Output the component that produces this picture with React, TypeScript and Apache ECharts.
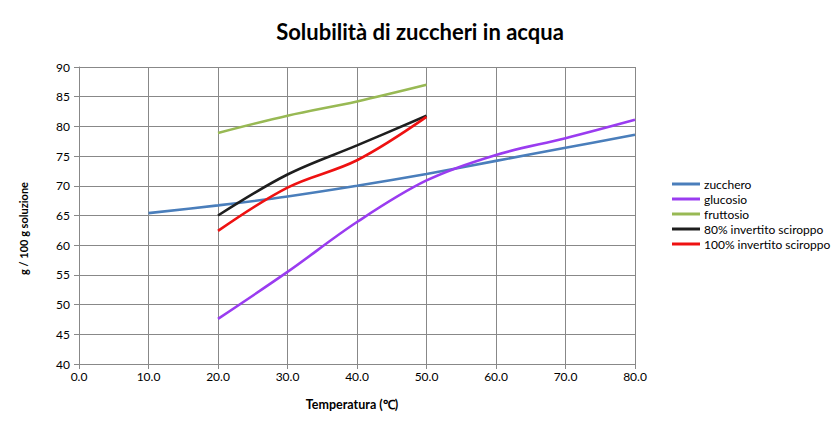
import React, { useEffect, useRef } from "react";
import * as echarts from "echarts";

const temps = [0, 10, 20, 30, 40, 50, 60, 70, 80];
const zucchero = [null, 65.4, 66.7, 68.2, 70.0, 72.0, 74.2, 76.4, 78.6];
const glucosio = [null, null, 47.6, 55.5, 63.9, 70.9, 75.2, 78.0, 81.1];
const fruttosio = [null, null, 78.9, 81.8, 84.2, 87.0, null, null, null];
const invert80 = [null, null, 65.0, 71.9, 76.8, 81.8, null, null, null];
const invert100 = [null, null, 62.4, 69.7, 74.3, 81.6, null, null, null];

const seriesNames = ["zucchero", "glucosio", "fruttosio", "80% invertito sciroppo", "100% invertito sciroppo"];
const seriesData = [zucchero, glucosio, fruttosio, invert80, invert100];
const colors = ["#4a7ebb", "#9a3cf0", "#98b954", "#1e1e1e", "#ee1111"];

const FONT = "Lato";

export default function App() {
  const ref = useRef<HTMLDivElement>(null);
  useEffect(() => {
    if (!ref.current) return;
    const chart = echarts.init(ref.current, null, { renderer: "svg" });
    chart.setOption({
      animation: false,
      textStyle: { fontFamily: FONT },
      title: {
        text: "Solubilità di zuccheri in acqua",
        left: "center",
        top: 7,
        textStyle: { fontFamily: FONT, fontSize: 22, fontWeight: "bold", color: "#000" },
      },
      legend: {
        orient: "vertical",
        left: 659,
        top: 165,
        itemWidth: 28,
        itemHeight: 3,
        itemGap: 3,
        icon: "rect",
        data: seriesNames,
        textStyle: { fontFamily: FONT, fontSize: 12, color: "#000", padding: [0, 0, 0, -1] },
      },
      grid: { left: 71, right: 197, top: 59, bottom: 57, containLabel: false },
      xAxis: {
        type: "value",
        min: 0,
        max: 80,
        interval: 10,
        name: "Temperatura (℃)",
        nameLocation: "middle",
        nameGap: 34,
        nameTextStyle: { fontFamily: FONT, fontSize: 12.5, fontWeight: "bold", color: "#000", padding: [0, 10, 0, 0] },
        axisLine: { show: true, lineStyle: { color: "#888", width: 1 } },
        axisTick: { show: true, length: 5, lineStyle: { color: "#888" } },
        axisLabel: { fontFamily: FONT, fontSize: 12, color: "#000", margin: 6, formatter: (v: number) => v.toFixed(1) },
        splitLine: { show: true, lineStyle: { color: "#888", width: 1 } },
      },
      yAxis: {
        type: "value",
        min: 40,
        max: 90,
        interval: 5,
        name: "g / 100 g soluzione",
        nameLocation: "middle",
        nameGap: 50,
        nameTextStyle: { fontFamily: FONT, fontSize: 11, fontWeight: "bold", color: "#000", padding: [0, 0, 0, -26] },
        axisLine: { show: true, lineStyle: { color: "#888", width: 1 } },
        axisTick: { show: true, length: 5, lineStyle: { color: "#888" } },
        axisLabel: { fontFamily: FONT, fontSize: 12, color: "#000", margin: 9 },
        splitLine: { show: true, lineStyle: { color: "#888", width: 1 } },
      },
      series: seriesNames.map((name, i) => ({
        name,
        type: "line",
        smooth: 0.35,
        showSymbol: false,
        symbol: "none",
        color: colors[i],
        lineStyle: { width: 2.6, color: colors[i] },
        data: temps.map((t, j) => [t, seriesData[i][j]]).filter((p) => p[1] !== null),
      })),
    });
    return () => chart.dispose();
  }, []);
  return <div ref={ref} style={{ width: 824, height: 413 }} />;
}
